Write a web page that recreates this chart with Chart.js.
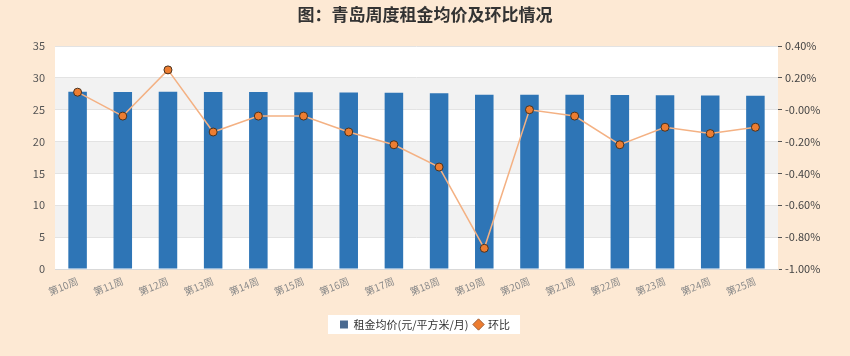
<!DOCTYPE html>
<html><head><meta charset="utf-8">
<script src="https://cdn.jsdelivr.net/npm/chart.js@4"></script>
<style>
html,body{margin:0;padding:0;background:#fde9d4;}
#wrap{width:850px;height:356px;position:relative;}
</style></head>
<body><div id="wrap"><canvas id="c" width="850" height="356"></canvas></div>
<script>
const categories = ['第10周','第11周','第12周','第13周','第14周','第15周','第16周','第17周','第18周','第19周','第20周','第21周','第22周','第23周','第24周','第25周'];
const rentPrice = [27.8,27.78,27.82,27.78,27.77,27.76,27.72,27.66,27.6,27.36,27.36,27.35,27.29,27.26,27.22,27.19];
const momChange = [0.11,-0.04,0.25,-0.14,-0.04,-0.04,-0.14,-0.22,-0.36,-0.87,0.00,-0.04,-0.22,-0.11,-0.15,-0.11];
const titleText = '图：青岛周度租金均价及环比情况';
const seriesNames = ['租金均价(元/平方米/月)','环比'];

const FONT = "'Noto Sans CJK SC','Noto Sans',sans-serif";
const bgPlugin = {
  id:'bg',
  beforeDraw(chart){
    const {ctx, chartArea:a, scales} = chart;
    ctx.save();
    ctx.fillStyle='#fde9d4';
    ctx.fillRect(0,0,chart.width,chart.height);
    ctx.fillStyle='#ffffff';
    ctx.fillRect(a.left,a.top,a.right-a.left,a.bottom-a.top);
    const y = scales.y;
    ctx.fillStyle='#f2f2f2';
    [[25,30],[15,20],[5,10]].forEach(([lo,hi])=>{
      const t=y.getPixelForValue(hi), b=y.getPixelForValue(lo);
      ctx.fillRect(a.left,t,a.right-a.left,b-t);
    });
    ctx.fillStyle='#333333';
    ctx.font="bold 17px "+FONT;
    ctx.textAlign='center';ctx.textBaseline='middle';
    ctx.fillText(titleText, 425, 15);
    const lg = chart.legend;
    if(lg && lg.legendHitBoxes && lg.legendHitBoxes.length){
      const boxes = lg.legendHitBoxes;
      ctx.fillStyle='#ffffff';
      const l = Math.min(...boxes.map(b=>b.left))-12;
      const r = Math.max(...boxes.map(b=>b.left+b.width))+10;
      const t = Math.min(...boxes.map(b=>b.top))-4;
      const bt = Math.max(...boxes.map(b=>b.top+b.height))+4;
      ctx.fillRect(l,t,r-l,bt-t);
    }
    ctx.restore();
  }
};

new Chart(document.getElementById('c'),{
  data:{
    labels:categories,
    datasets:[
      {type:'bar',label:seriesNames[0],data:rentPrice,yAxisID:'y',backgroundColor:'#2e75b6',
       categoryPercentage:1,barPercentage:0.41,order:2},
      {type:'line',label:seriesNames[1],data:momChange,yAxisID:'y1',borderColor:'#f4b183',borderWidth:1.5,
       pointRadius:4,pointBackgroundColor:'#ed7d31',pointBorderColor:'#4a3320',pointBorderWidth:1,
       tension:0,order:1}
    ]
  },
  options:{
    responsive:false,animation:false,
    layout:{padding:{top:46,left:0,right:0,bottom:16}},
    plugins:{
      title:{display:false},
      tooltip:{enabled:false},
      legend:{
        position:'bottom',
        labels:{
          font:{family:FONT,size:11},color:'#333',
          usePointStyle:true,boxWidth:8,boxHeight:8,padding:6,
          sort:(a,b)=>a.datasetIndex-b.datasetIndex,
          generateLabels(chart){
            const items = Chart.defaults.plugins.legend.labels.generateLabels(chart);
            items.forEach(it=>{
              if(it.datasetIndex===0){it.pointStyle='rect';it.fillStyle='#4a6a90';it.strokeStyle='#4a6a90';it.lineWidth=0;}
              else {it.pointStyle='rectRot';it.fillStyle='#ed7d31';it.strokeStyle='#a0603a';it.lineWidth=1;}
            });
            return items;
          }
        }
      }
    },
    scales:{
      x:{
        grid:{display:false,drawTicks:false},
        border:{color:'#d9d9d9'},
        ticks:{font:{family:FONT,size:10},color:'#8a8a8a',minRotation:22,maxRotation:22,padding:6},
        afterFit(s){s.height=44;}
      },
      y:{
        position:'left',min:0,max:35,
        ticks:{stepSize:5,font:{family:FONT,size:11},color:'#555',padding:10},
        grid:{color:'#e3e3e3',drawTicks:false},
        border:{display:false},
        afterFit(s){s.width=55;}
      },
      y1:{
        position:'right',min:-1,max:0.4,
        ticks:{stepSize:0.1,font:{family:FONT,size:11},color:'#444',padding:3,
          callback(v){
            const k=Math.round(v*10);
            if(k%2!==0) return '';
            if(k===0) return '-0.00%';
            return (k/10).toFixed(2)+'%';
          }},
        grid:{drawOnChartArea:false,drawTicks:true,tickLength:4,color:'#555'},
        border:{display:false},
        afterFit(s){s.width=72;}
      }
    }
  },
  plugins:[bgPlugin]
});
</script></body></html>
